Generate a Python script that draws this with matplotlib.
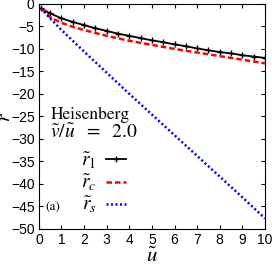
import matplotlib
matplotlib.use("Agg")
import matplotlib.pyplot as plt

plt.rcParams["mathtext.fontset"] = "stix"

# data
u1 = [0.1, 0.5, 1, 1.5, 2, 2.5, 3, 3.5, 4, 4.5, 5, 5.5, 6, 6.5, 7, 7.5, 8, 8.5, 9, 9.5, 10]
r1 = [-1.0, -2.1, -3.2, -4.0, -4.7, -5.4, -6.0, -6.6, -7.1, -7.6, -8.1, -8.5, -9.0, -9.4,
      -9.9, -10.3, -10.7, -11.0, -11.4, -11.7, -12.0]
uc = [0.1, 0.5, 1, 1.5, 2, 3, 4, 5, 6, 7, 8, 9, 10]
rc = [-1.0, -3.0, -4.2, -5.1, -5.8, -7.1, -8.2, -9.1, -10.0, -10.8, -11.6, -12.4, -13.2]
us = [0.1, 0.5, 1, 2, 3, 4, 5, 6, 7, 8, 9, 10]
rs = [-1.0, -3.2, -5.8, -10.6, -15.3, -20.0, -24.6, -29.2, -33.8, -38.4, -43.0, -47.7]

fig = plt.figure(figsize=(2.72, 2.65), dpi=100)
ax = fig.add_axes([0.143, 0.137, 0.831, 0.848])

ax.plot(u1, r1, color="black", lw=1.3, marker="+", ms=5, mew=1.0, label=r"$\tilde{r}_1$")
ax.plot(uc, rc, color="red", lw=1.8, ls=(0, (2.2, 1.2)), label=r"$\tilde{r}_c$")
ax.plot(us, rs, color="blue", lw=1.8, ls=(0, (0.8, 1.0)), label=r"$\tilde{r}_s$")

ax.set_xlim(0, 10)
ax.set_ylim(-50, 0)
ax.set_xticks(range(0, 11))
ax.set_yticks(range(-50, 1, 5))
ax.tick_params(direction="in", top=True, right=True, labelsize=10, length=3, pad=3)
for lab in ax.get_xticklabels() + ax.get_yticklabels():
    lab.set_family("Liberation Sans")

ax.set_xlabel(r"$\tilde{u}$", fontsize=15)
ax.xaxis.set_label_coords(0.5, -0.075)
fig.text(0.02, 0.56, r"$\tilde{r}$", fontsize=14, rotation=90, ha="center", va="center")

ax.text(0.05, 0.488, "Heisenberg", transform=ax.transAxes, fontsize=12.5, family="STIXGeneral")
ax.text(0.05, 0.405, r"$\tilde{v}/\tilde{u}\ \ =\ \ 2.0$", transform=ax.transAxes, fontsize=14)
ax.text(0.03, 0.08, "(a)", transform=ax.transAxes, fontsize=9.5, family="STIXGeneral")

ax.legend(loc="lower right", bbox_to_anchor=(0.385, 0.06), frameon=False, markerfirst=False,
          fontsize=14, handlelength=1.0, handletextpad=0.5, labelspacing=0.1, borderpad=0.0,
          borderaxespad=0.0)

fig.savefig("out.png", dpi=100)
